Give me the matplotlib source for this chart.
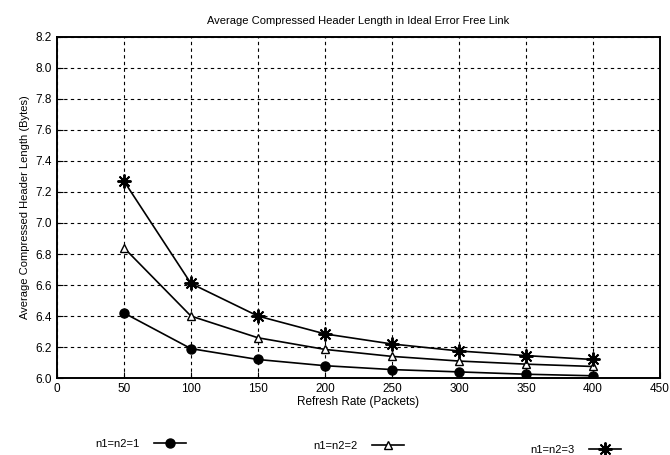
import matplotlib.pyplot as plt

plt.rcParams['font.family'] = ['Liberation Sans', 'DejaVu Sans']

refresh = [50, 100, 150, 200, 250, 300, 350, 400]
len_n1 = [6.42, 6.19, 6.12, 6.08, 6.055, 6.04, 6.025, 6.015]
len_n2 = [6.84, 6.40, 6.26, 6.185, 6.14, 6.11, 6.09, 6.075]
len_n3 = [7.27, 6.61, 6.40, 6.285, 6.22, 6.175, 6.145, 6.12]
labels = ['n1=n2=1', 'n1=n2=2', 'n1=n2=3']

fig = plt.figure(figsize=(6.7, 4.55), dpi=100)
ax = fig.add_axes([0.085, 0.169, 0.900, 0.750])

l1, = ax.plot(refresh, len_n1, color='black', lw=1.2, marker='o', ms=6.5)
l2, = ax.plot(refresh, len_n2, color='black', lw=1.2, marker='^', ms=6,
              markerfacecolor='white')
l3, = ax.plot(refresh, len_n3, color='black', lw=1.2, marker=(8, 2, 0), ms=10,
              markeredgewidth=1.4)

ax.set_xlim(0, 450)
ax.set_ylim(6.0, 8.2)
ax.set_xticks(range(0, 451, 50))
ax.set_yticks([6.0 + 0.2 * i for i in range(12)])
ax.yaxis.set_major_formatter(plt.FormatStrFormatter('%.1f'))
ax.grid(True, color='black', linestyle=(0, (3, 3)), linewidth=0.8)
ax.tick_params(direction='in', labelsize=8.5, length=4)
for s in ax.spines.values():
    s.set_linewidth(1.4)

ax.set_title('Average Compressed Header Length in Ideal Error Free Link', fontsize=8, pad=9)
ax.set_xlabel('Refresh Rate (Packets)', fontsize=8.5, labelpad=1)
ax.set_ylabel('Average Compressed Header Length (Bytes)', fontsize=8)

# legend entries sit apart under the plot, label first then the symbol
for h, lab, x, y in zip([l1, l2, l3], labels, [0.142, 0.467, 0.791], [0.025, 0.019, 0.012]):
    fig.legend(handles=[h], labels=[lab], loc='center left', bbox_to_anchor=(x, y),
               frameon=False, markerfirst=False, borderpad=0, borderaxespad=0,
               handlelength=2.9, handletextpad=1.3, fontsize=8)

plt.savefig('out.png')
